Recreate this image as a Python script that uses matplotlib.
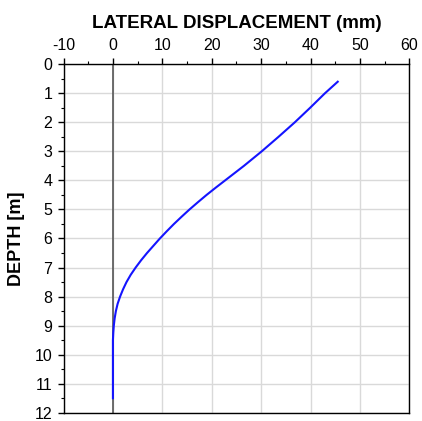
import matplotlib.pyplot as plt
from matplotlib.ticker import MultipleLocator

plt.rcParams["font.family"] = ["Liberation Sans", "DejaVu Sans"]
plt.rcParams["axes.unicode_minus"] = False

# inclinometer profile: depth (m) vs lateral displacement (mm)
depth = [0.6, 1.0, 1.5, 2.0, 2.5, 3.0, 3.5, 3.75, 4.0, 4.25, 4.5, 4.75, 5.0,
         5.25, 5.5, 5.75, 6.0, 6.25, 6.5, 6.75, 7.0, 7.25, 7.5, 7.75,
         8.0, 8.25, 8.5, 8.75, 9.0, 9.25, 9.5, 10.0, 10.5, 11.0, 11.5]
disp = [45.5, 42.9, 39.9, 36.8, 33.5, 30.1, 26.5, 24.6, 22.7, 20.8, 18.95, 17.2, 15.5,
        13.9, 12.35, 10.9, 9.5, 8.2, 6.9, 5.7, 4.6, 3.6, 2.75, 2.05,
        1.45, 0.95, 0.6, 0.35, 0.18, 0.07, 0.0, 0.0, 0.0, 0.0, 0.0]

fig = plt.figure(figsize=(4.22, 4.21), dpi=100)
ax = fig.add_axes([0.1505, 0.0197, 0.8196, 0.8276])

ax.axvline(0, color="#555555", lw=1.2, zorder=2)
ax.plot(disp, depth, color="#1414ff", lw=1.5, zorder=3)

ax.set_xlim(-10, 60)
ax.set_ylim(12, 0)
ax.xaxis.set_major_locator(MultipleLocator(10))
ax.xaxis.set_minor_locator(MultipleLocator(5))
ax.yaxis.set_major_locator(MultipleLocator(1))
ax.yaxis.set_minor_locator(MultipleLocator(0.5))
ax.xaxis.tick_top()
ax.xaxis.set_label_position("top")

ax.grid(True, which="major", color="#d9d9d9", lw=1.0, zorder=0)
ax.set_axisbelow(True)
ax.tick_params(which="major", direction="out", length=4, width=1,
               labelsize=11.5, pad=4, color="black")
ax.tick_params(which="minor", direction="out", length=2.5, width=0.8)
for s in ax.spines.values():
    s.set_linewidth(1.0)
    s.set_color("black")

ax.set_xlabel("LATERAL DISPLACEMENT (mm)", fontsize=13.5, fontweight="bold",
              labelpad=7)
ax.set_ylabel("DEPTH [m]", fontsize=13, fontweight="bold", labelpad=7)

fig.savefig("out.png", dpi=100)
